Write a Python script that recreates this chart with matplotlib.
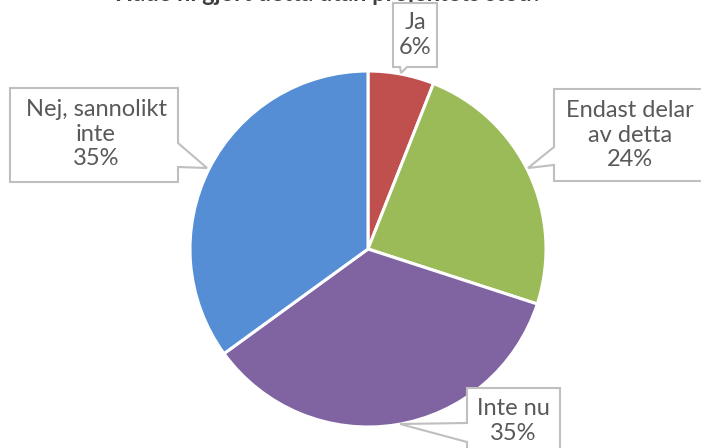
import matplotlib.pyplot as plt
from matplotlib.patches import Polygon

title = "Hade ni gjort detta utan projektets stöd?"
labels = ["Ja", "Endast delar\nav detta", "Inte nu", "Nej, sannolikt\ninte"]
values = [6, 24, 35, 35]
colors = ["#C0504D", "#9BBB59", "#8064A2", "#558ED5"]

W, H = 701, 448
fig = plt.figure(figsize=(W / 100, H / 100), dpi=100)
ax = fig.add_axes([0, 0, 1, 1])

ax.pie(values, colors=colors, startangle=90, counterclock=False,
       center=(368, H - 249), radius=178,
       wedgeprops=dict(edgecolor="white", linewidth=2.2))
ax.set_xlim(0, W)
ax.set_ylim(0, H)
ax.set_aspect("equal")
ax.axis("off")


def callout(pts, text, tx, ty):
    # pts given in pixel coords (y down)
    poly = Polygon([(x, H - y) for x, y in pts], closed=True, facecolor="white",
                   edgecolor="#BFBFBF", linewidth=1.5, zorder=5)
    ax.add_patch(poly)
    ax.text(tx, H - ty, text, ha="center", va="center", fontsize=17,
            color="#595959", linespacing=1.18, zorder=6, family="Lato")


pct = [f"{v}%" for v in values]

# Ja
callout([(393, 3), (437, 3), (437, 67), (407, 67), (401, 73), (400, 67), (393, 67)],
        labels[0] + "\n" + pct[0], 415, 35)
# Endast delar av detta
callout([(554, 89), (720, 89), (720, 181), (554, 181), (554, 165), (528, 168), (554, 147)],
        labels[1] + "\n" + pct[1], 630, 135)
# Inte nu
callout([(467, 388), (560, 388), (560, 460), (467, 460), (467, 442), (400, 424), (467, 423)],
        labels[2] + "\n" + pct[2], 513, 421)
# Nej, sannolikt inte
callout([(10, 88), (178, 88), (178, 143), (207, 168), (178, 167), (178, 182), (10, 182)],
        labels[3] + "\n" + pct[3], 96, 134)

ax.text(329, H + 7, title, ha="center", va="center", fontsize=17, fontweight="bold",
        color="#404040", family="Lato")

fig.savefig("out.png", dpi=100)
